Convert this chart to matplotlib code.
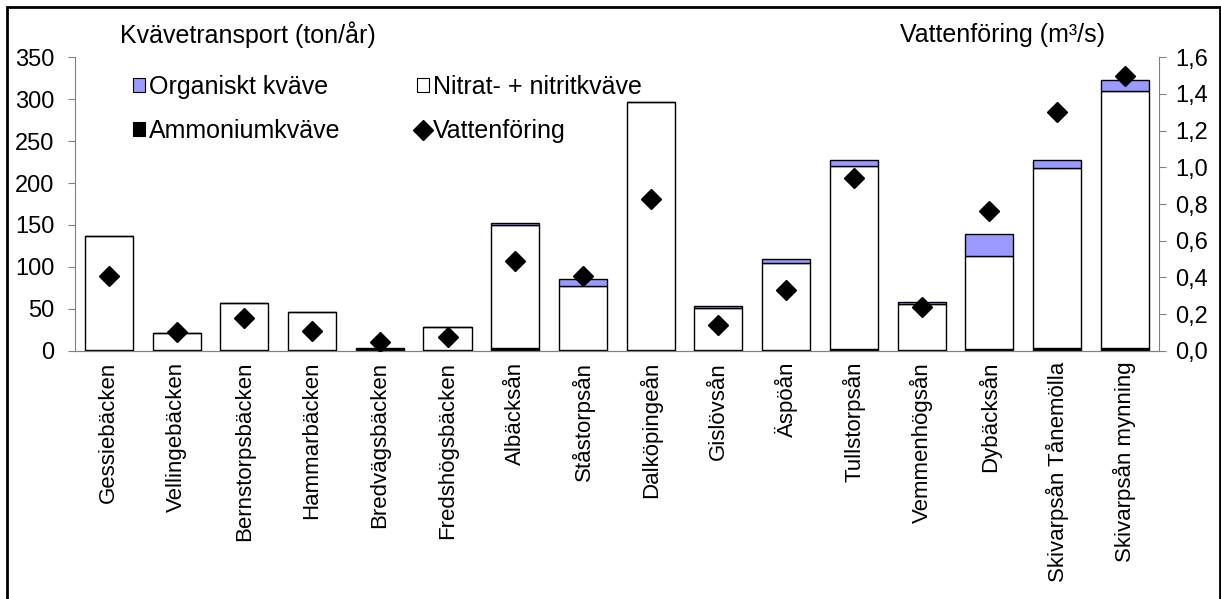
import matplotlib
matplotlib.use("Agg")
import matplotlib.pyplot as plt
from matplotlib.patches import Rectangle, Patch
from matplotlib.lines import Line2D
from matplotlib.ticker import FuncFormatter
import numpy as np

plt.rcParams['font.family'] = ['Liberation Sans', 'DejaVu Sans']

# vattendrag
namn = ['Gessiebäcken', 'Vellingebäcken', 'Bernstorpsbäcken', 'Hammarbäcken',
        'Bredvägsbäcken', 'Fredshögsbäcken', 'Albäcksån', 'Ståstorpsån',
        'Dalköpingeån', 'Gislövsån', 'Äspöån', 'Tullstorpsån', 'Vemmenhögsån',
        'Dybäcksån', 'Skivarpsån Tånemölla', 'Skivarpsån mynning']

# kvävetransport, ton/år
ammonium = [1, 0.5, 0.5, 0.5, 1, 0.5, 3, 1, 1, 1, 1, 2, 1, 2, 3, 3]
nitrat = [136, 20.5, 56.5, 46, 1, 27.5, 147, 76, 296, 49.5, 104, 218, 54.5, 110.5, 214.5, 307]
organiskt = [0, 0, 0, 0, 1.5, 0, 2.5, 8.5, 0, 3, 5, 8, 3, 26.5, 10.5, 12.5]

# vattenföring, m3/s
vattenforing = [0.41, 0.10, 0.18, 0.11, 0.047, 0.075, 0.49, 0.41, 0.83, 0.14,
                0.33, 0.94, 0.24, 0.76, 1.30, 1.50]

lila = '#9999FF'
gra = '#808080'
fs = 16      # kategorinamn
fs_y = 17    # axelsiffror
fs_t = 18    # rubriker och teckenförklaring

fig = plt.figure(figsize=(12.21, 5.99), dpi=100)
ax = fig.add_axes([0.0614, 0.4145, 0.8876, 0.4898])
ax2 = ax.twinx()

x = np.arange(len(namn))
amm = np.array(ammonium)
nit = np.array(nitrat)
org = np.array(organiskt)
bw = 0.71
ax.bar(x, amm, bw, color='black', edgecolor='black', lw=1, zorder=2)
ax.bar(x, nit, bw, bottom=amm, color='white', edgecolor='black', lw=1, zorder=2)
ax.bar(x, org, bw, bottom=amm + nit, color=lila, edgecolor='black', lw=1, zorder=2)

ax2.plot(x, vattenforing, ls='none', marker='D', ms=10, color='black', zorder=5)

ax.set_xlim(-0.5, len(namn) - 0.5)
ax.set_ylim(0, 350)
ax.set_yticks(np.arange(0, 351, 50))
ax2.set_ylim(0, 1.6)
ax2.set_yticks(np.arange(0, 1.61, 0.2))
ax2.yaxis.set_major_formatter(FuncFormatter(lambda v, p: f'{v:.1f}'.replace('.', ',')))

ax.set_xticks(x)
ax.set_xticklabels(namn, rotation=90, fontsize=fs)
ax.tick_params(axis='x', length=0, pad=8)
ax.tick_params(axis='y', labelsize=fs_y, length=5, color=gra, direction='out', pad=10)
ax2.tick_params(axis='y', labelsize=fs_y, length=5, color=gra, direction='out', pad=7)

for a in (ax, ax2):
    a.spines['top'].set_visible(False)
    for s in ('left', 'right', 'bottom'):
        a.spines[s].set_color(gra)
ax2.spines['left'].set_visible(False)
ax.spines['right'].set_visible(False)
ax2.set_zorder(ax.get_zorder() + 1)
ax2.patch.set_visible(False)

fig.text(120 / 1221, 1 - 35 / 599, 'Kvävetransport (ton/år)', fontsize=fs_t,
         va='center', ha='left')
fig.text(1105 / 1221, 1 - 35 / 599, 'Vattenföring (m³/s)', fontsize=fs_t,
         va='center', ha='right')

handles = [Patch(facecolor=lila, edgecolor='black', lw=0.8),
           Patch(facecolor='black', edgecolor='black', lw=0.8),
           Patch(facecolor='white', edgecolor='black', lw=0.8),
           Line2D([], [], ls='none', marker='D', ms=10, color='black')]
labels = ['Organiskt kväve', 'Ammoniumkväve', 'Nitrat- + nitritkväve', 'Vattenföring']
ax2.legend(handles, labels, ncol=2, loc='upper left', bbox_to_anchor=(0.044, 0.975),
           frameon=False, fontsize=fs_t, handlelength=0.5, handleheight=0.5,
           handletextpad=0.15, columnspacing=3.05, labelspacing=0.8, borderaxespad=0)

fig.add_artist(Rectangle((7 / 1221, -0.02), 1212.5 / 1221, 1 - 6.5 / 599 + 0.02,
                         transform=fig.transFigure, fill=False, edgecolor='black', lw=2))

fig.savefig('out.png', dpi=100)
